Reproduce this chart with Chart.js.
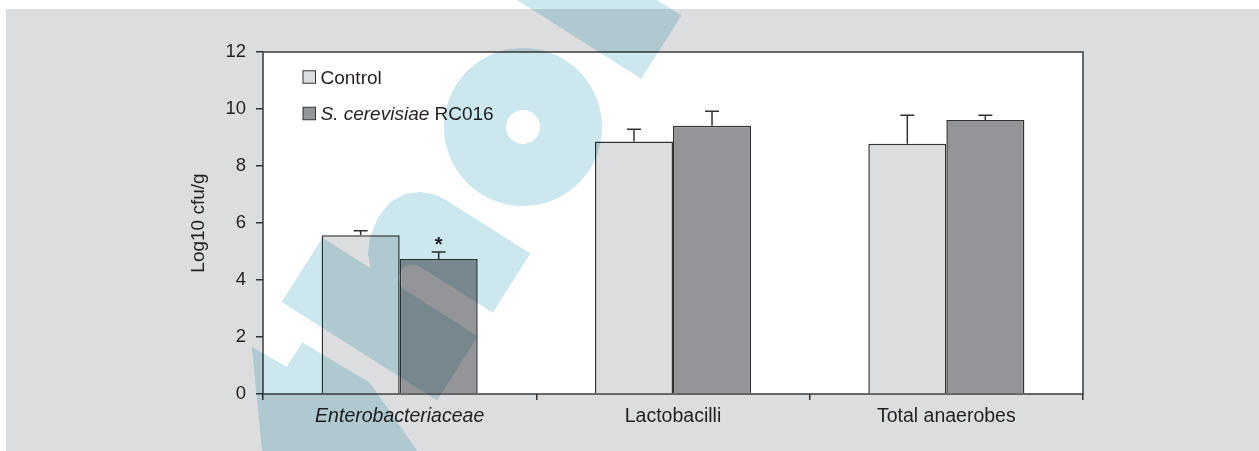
<!DOCTYPE html>
<html>
<head>
<meta charset="utf-8">
<script src="https://cdn.jsdelivr.net/npm/chart.js@4.4.1/dist/chart.umd.min.js"></script>
<style>
    html, body { margin: 0; padding: 0; background: #fff; }
    #chart { display: block; }
</style>
</head>
<body>
<canvas id="chart" width="1259" height="451"></canvas>
<script>
const categories = ["Enterobacteriaceae", "Lactobacilli", "Total anaerobes"];
const seriesNames = ["Control", "S. cerevisiae RC016"];
const italicPrefix = ["", "S. cerevisiae"];
const controlMeans = [5.57, 8.86, 8.78];
const controlSem = [0.16, 0.43, 1.0];
const treatedMeans = [4.74, 9.41, 9.61];
const treatedSem = [0.24, 0.51, 0.17];
const treatedMarks = ["*", "", ""];
const yTicks = [0, 2, 4, 6, 8, 10, 12];

const FONT = "'Liberation Sans', Arial, Helvetica, sans-serif";
const INK = "#231f20";
const EDGE = "#333333";
const PAGE_GREY = "#dcdddf";

// grey panel behind the figure, white plot box
const pageBackground = {
    id: "pageBackground",
    beforeDraw(chart) {
        const {ctx, width, height, chartArea: a} = chart;
        ctx.save();
        ctx.fillStyle = "#fff";
        ctx.fillRect(0, 0, width, height);
        ctx.fillStyle = PAGE_GREY;
        ctx.fillRect(6, 9, width - 6, height - 9);
        ctx.fillStyle = "#fff";
        ctx.fillRect(a.left, a.top, a.width, a.height);
        ctx.restore();
    }
};

// one-sided error bars, significance marks and the frame round the plot
const errorBars = {
    id: "errorBars",
    afterDatasetsDraw(chart) {
        const {ctx, chartArea: a} = chart;
        const y = chart.scales.y;
        ctx.save();
        ctx.strokeStyle = EDGE;
        ctx.lineWidth = 1.5;
        chart.data.datasets.forEach((ds, i) => {
            chart.getDatasetMeta(i).data.forEach((bar, j) => {
                const top = y.getPixelForValue(ds.data[j] + ds.sem[j]);
                ctx.beginPath();
                ctx.moveTo(bar.x, bar.y);
                ctx.lineTo(bar.x, top);
                ctx.moveTo(bar.x - 7, top);
                ctx.lineTo(bar.x + 7, top);
                ctx.stroke();
                const mark = ds.marks ? ds.marks[j] : "";
                if (mark) {
                    ctx.fillStyle = INK;
                    ctx.font = `bold 20px ${FONT}`;
                    ctx.textAlign = "center";
                    ctx.textBaseline = "alphabetic";
                    ctx.fillText(mark, bar.x, top - 1);
                }
            });
        });
        ctx.strokeStyle = "#3a3a3a";
        ctx.strokeRect(a.left, a.top, a.width, a.height);
        ctx.restore();
    }
};

// legend sitting inside the plot, top left
const insetLegend = {
    id: "insetLegend",
    afterDraw(chart) {
        const {ctx, chartArea: a} = chart;
        const box = 12.5;
        const x0 = a.left + 40;
        ctx.save();
        ctx.textBaseline = "alphabetic";
        ctx.textAlign = "left";
        chart.data.datasets.forEach((ds, i) => {
            const cy = a.top + 25 + i * 36.5;
            ctx.fillStyle = ds.backgroundColor;
            ctx.fillRect(x0, cy - box / 2, box, box);
            ctx.strokeStyle = EDGE;
            ctx.lineWidth = 1;
            ctx.strokeRect(x0, cy - box / 2, box, box);

            let tx = x0 + box + 5;
            const base = cy + 6.5;
            const pre = italicPrefix[i];
            const rest = pre ? ds.label.slice(pre.length) : ds.label;
            ctx.fillStyle = INK;
            if (pre) {
                ctx.font = `italic 19px ${FONT}`;
                ctx.fillText(pre, tx, base);
                tx += ctx.measureText(pre).width;
            }
            ctx.font = `19px ${FONT}`;
            ctx.fillText(rest, tx, base);
        });
        ctx.restore();
    }
};

// translucent cyan stamp laid over the figure
const stamp = {
    id: "stamp",
    afterDraw(chart) {
        const ctx = chart.ctx;
        const ox = 523, oy = 127;
        const phi = -57.6 * Math.PI / 180;
        const c = Math.cos(phi), s = Math.sin(phi);
        const pt = (u, v) => [ox + u * c + v * s, oy + u * s - v * c];

        const addPoly = pts => {
            pts.forEach(([u, v], k) => {
                const [px, py] = pt(u, v);
                if (k === 0) ctx.moveTo(px, py); else ctx.lineTo(px, py);
            });
            ctx.closePath();
        };
        const arcPts = (cu, cv, r, from, to, n) => {
            const out = [];
            for (let k = 0; k <= n; k++) {
                const t = from + (to - from) * k / n;
                out.push([cu + r * Math.cos(t), cv + r * Math.sin(t)]);
            }
            return out;
        };

        ctx.save();
        ctx.globalCompositeOperation = "multiply";
        ctx.fillStyle = "#cce7ed";
        ctx.beginPath();

        // ring
        addPoly(arcPts(0, 0, 79, 0, Math.PI * 2, 90));
        addPoly(arcPts(0, 0, 17, 0, Math.PI * 2, 40));

        // tall stem to the right of the ring
        addPoly([[104, -74], [179, -74], [179, 420], [104, 420]]);

        // arch with two legs
        addPoly([
            [-277, -74], [-277, 110], [-201, 110], [-201, 53],
            [-190, 63], [-175, 70], [-155, 74], [-135, 72], [-120, 64],
            [-110, 52], [-104, 38], [-103, 25],
            [-103, -74], [-173, -74], [-173, 12],
            ...arcPts(-187, 12, 14, 0, Math.PI, 10),
            [-201, -74]
        ]);

        // piece at the lower left
        addPoly([
            [-520, 47], [-413, 47], [-331, 111], [-329, 71], [-300, 71],
            [-298, -8], [-330, -84], [-520, -84]
        ]);

        ctx.fill("evenodd");
        ctx.restore();
    }
};

new Chart(document.getElementById("chart"), {
    type: "bar",
    data: {
        labels: categories,
        datasets: [
            {
                label: seriesNames[0],
                data: controlMeans,
                sem: controlSem,
                backgroundColor: PAGE_GREY,
                borderColor: EDGE,
                borderWidth: 1.5,
                categoryPercentage: 0.571,
                barPercentage: 1
            },
            {
                label: seriesNames[1],
                data: treatedMeans,
                sem: treatedSem,
                marks: treatedMarks,
                backgroundColor: "#939598",
                borderColor: EDGE,
                borderWidth: 1.5,
                categoryPercentage: 0.571,
                barPercentage: 1
            }
        ]
    },
    options: {
        responsive: false,
        animation: false,
        layout: {padding: {top: 52, left: 180, right: 176, bottom: 22}},
        plugins: {
            legend: {display: false},
            tooltip: {enabled: false}
        },
        scales: {
            x: {
                offset: true,
                border: {display: false},
                grid: {offset: true, drawOnChartArea: false, tickLength: 6, color: EDGE, lineWidth: 1.5},
                ticks: {
                    color: INK,
                    padding: 5,
                    font: ctx => ({family: FONT, size: 19.5, style: ctx.index === 0 ? "italic" : "normal"})
                },
                afterFit: sc => { sc.height = 35; }
            },
            y: {
                min: yTicks[0],
                max: yTicks[yTicks.length - 1],
                border: {display: false},
                grid: {drawOnChartArea: false, tickLength: 7, color: EDGE, lineWidth: 1.5},
                ticks: {color: INK, padding: 10, font: {family: FONT, size: 18.5}},
                afterBuildTicks: sc => { sc.ticks = yTicks.map(v => ({value: v})); },
                title: {
                    display: true,
                    text: "Log10 cfu/g",
                    color: INK,
                    font: {family: FONT, size: 19},
                    padding: {top: 7, bottom: 0}
                },
                afterFit: sc => { sc.width = 83; }
            }
        }
    },
    plugins: [pageBackground, errorBars, insetLegend, stamp]
});
</script>
</body>
</html>
